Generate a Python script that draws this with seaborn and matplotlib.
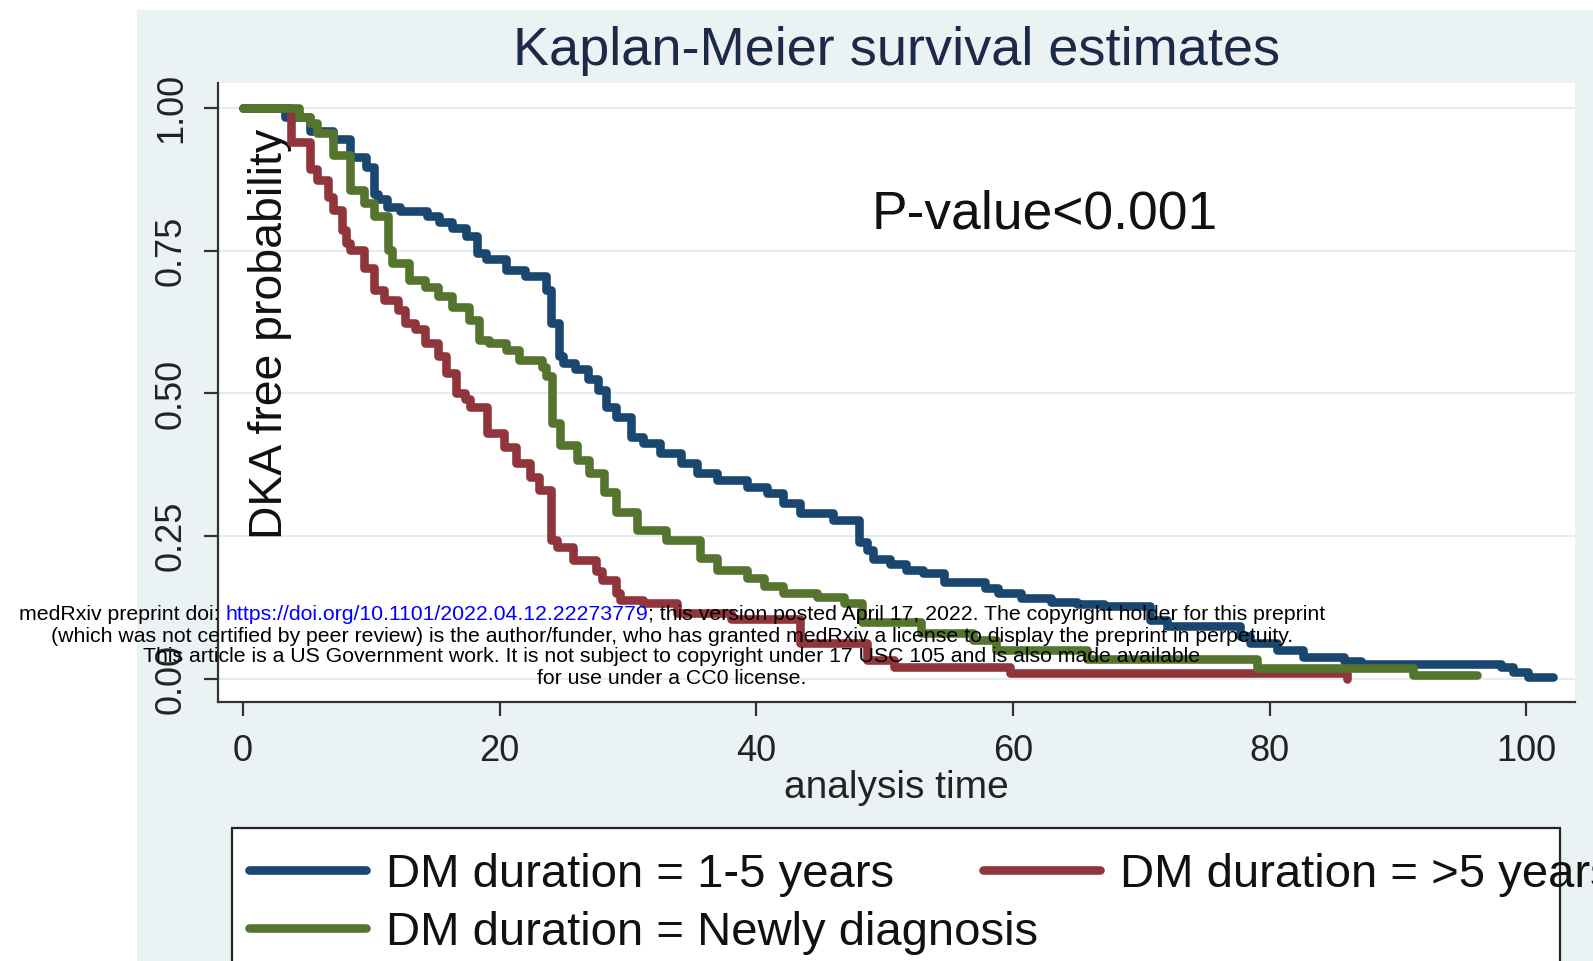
import numpy as np
import pandas as pd
import matplotlib
matplotlib.use("Agg")
import matplotlib.pyplot as plt
from matplotlib.patches import Rectangle
import seaborn as sns

# ---------------- data ----------------
blue_time = [0, 3.3, 5.2, 7.0, 8.3, 9.6, 10.2, 10.5, 11.2, 12.2, 14.3, 15.3, 16.3, 17.4, 18.2,
             18.9, 20.5, 22.0, 23.6, 24.0, 24.6, 24.9, 25.9, 26.9, 27.7, 28.3, 29.1, 30.2, 31.2,
             32.5, 34.1, 35.4, 36.9, 39.3, 40.8, 42.1, 43.4, 46.0, 48.0, 48.6, 49.1, 50.4, 51.7,
             53.0, 54.6, 57.8, 58.8, 60.6, 63.0, 65.0, 67.1, 70.7, 72.0, 77.7, 78.5, 80.6, 82.6,
             85.8, 87.1, 98.0, 99.0, 100.1, 102.1]
blue_surv = [1.0, 0.985, 0.96, 0.945, 0.915, 0.896, 0.85, 0.84, 0.826, 0.82, 0.81, 0.80, 0.789,
             0.775, 0.746, 0.735, 0.716, 0.705, 0.681, 0.623, 0.565, 0.553, 0.543, 0.525, 0.506,
             0.477, 0.459, 0.424, 0.413, 0.395, 0.378, 0.36, 0.349, 0.337, 0.325, 0.308, 0.29,
             0.278, 0.24, 0.226, 0.211, 0.202, 0.191, 0.186, 0.17, 0.159, 0.15, 0.141, 0.135,
             0.132, 0.127, 0.103, 0.092, 0.075, 0.063, 0.051, 0.039, 0.032, 0.027, 0.021, 0.013,
             0.003, 0.003]

red_time = [0, 3.7, 5.2, 5.8, 6.6, 7.0, 7.7, 8.0, 8.3, 9.4, 10.2, 11.0, 12.1, 12.6, 13.4, 14.2,
            15.2, 15.8, 16.6, 17.3, 17.7, 19.0, 20.3, 21.3, 22.4, 23.1, 24.0, 24.5, 25.7, 27.5,
            28.0, 29.1, 29.4, 31.2, 33.8, 38.0, 43.4, 48.6, 50.7, 59.8, 86.0]
red_surv = [1.0, 0.94, 0.894, 0.874, 0.845, 0.821, 0.786, 0.763, 0.751, 0.72, 0.681, 0.664, 0.646,
            0.623, 0.613, 0.588, 0.565, 0.536, 0.50, 0.49, 0.477, 0.43, 0.407, 0.378, 0.354,
            0.331, 0.243, 0.232, 0.208, 0.19, 0.173, 0.15, 0.138, 0.133, 0.115, 0.105, 0.0625,
            0.033, 0.021, 0.011, 0.0]

green_time = [0, 4.4, 5.2, 5.8, 7.0, 8.3, 9.4, 10.2, 11.3, 11.6, 12.9, 14.2, 15.2, 16.3, 17.6,
              18.4, 19.2, 20.5, 21.5, 23.3, 23.6, 24.1, 24.7, 26.0, 27.0, 28.1, 29.1, 30.7, 33.0,
              35.6, 36.9, 39.3, 40.6, 42.1, 44.7, 46.8, 48.2, 52.8, 56.9, 58.7, 65.8, 79.0, 91.2,
              96.2]
green_surv = [1.0, 0.985, 0.973, 0.956, 0.918, 0.856, 0.833, 0.81, 0.751, 0.728, 0.699, 0.687,
              0.67, 0.652, 0.629, 0.594, 0.588, 0.576, 0.559, 0.547, 0.53, 0.448, 0.41, 0.384,
              0.36, 0.328, 0.293, 0.261, 0.243, 0.212, 0.191, 0.177, 0.162, 0.150, 0.144, 0.133,
              0.10, 0.08, 0.068, 0.051, 0.035, 0.019, 0.007, 0.007]

groups = ["DM duration = 1-5 years", "DM duration = >5 years", "DM duration = Newly diagnosis"]
colors = ["#1A476F", "#90353B", "#55752F"]
x_ticks = [0, 20, 40, 60, 80, 100]
y_ticks = [0, 0.25, 0.5, 0.75, 1.0]
y_tick_labels = ["0.00", "0.25", "0.50", "0.75", "1.00"]
title = "Kaplan-Meier survival estimates"
p_text = "P-value<0.001"
y_title = "DKA free probability"
x_title = "analysis time"
wm_line1 = [("medRxiv preprint doi: ", "black"),
            ("https://doi.org/10.1101/2022.04.12.22273779", "#0000FF"),
            ("; this version posted April 17, 2022. The copyright holder for this preprint", "black")]
wm_lines = ["(which was not certified by peer review) is the author/funder, who has granted medRxiv a license to display the preprint in perpetuity.",
            "This article is a US Government work. It is not subject to copyright under 17 USC 105 and is also made available",
            "for use under a CC0 license."]

# ---------------- figure ----------------
sns.set_theme(style="white")
plt.rcParams["font.family"] = ["Liberation Sans", "DejaVu Sans"]

W, H = 1593, 961
fig = plt.figure(figsize=(W / 100, H / 100), dpi=100)
fig.patch.set_facecolor("white")
fig.patches.append(Rectangle((137 / W, 0), 1 - 137 / W, (H - 10) / H, transform=fig.transFigure,
                             facecolor="#EAF2F3", edgecolor="none", zorder=-1))

ax = fig.add_axes([218 / W, 1 - 702 / H, (1575 - 218) / W, (702 - 83) / H])
ax.set_facecolor("white")

df = pd.concat([
    pd.DataFrame({"time": blue_time, "surv": blue_surv, "group": groups[0]}),
    pd.DataFrame({"time": red_time, "surv": red_surv, "group": groups[1]}),
    pd.DataFrame({"time": green_time, "surv": green_surv, "group": groups[2]}),
], ignore_index=True)

LW = 6.2
sns.lineplot(data=df, x="time", y="surv", hue="group", hue_order=groups, palette=colors,
             estimator=None, sort=False, drawstyle="steps-post", linewidth=LW, ax=ax)

ax.set_xlim(-1.95, 103.8)
ax.set_ylim(-0.0403, 1.0438)
ax.set_xticks(x_ticks)
ax.set_yticks(y_ticks, labels=y_tick_labels)
ax.tick_params(axis="both", direction="out", length=10, width=1.6, color="#333333",
               labelsize=26, labelcolor="#222222", left=True, bottom=True)
ax.tick_params(axis="x", pad=13)
ax.tick_params(axis="y", pad=11)
plt.setp(ax.get_yticklabels(), rotation=90, va="center", ha="right")

for s in ["top", "right"]:
    ax.spines[s].set_visible(False)
for s in ["left", "bottom"]:
    ax.spines[s].set_color("#333333")
    ax.spines[s].set_linewidth(1.6)

ax.set_axisbelow(True)
ax.yaxis.grid(True, color="#E4ECEF", linewidth=1.5)
ax.xaxis.grid(False)

ax.set_title(title, fontsize=39, color="#1C2A48", y=(702 - 51) / 619, va="center", pad=0)
ax.text(49.0, 0.814, p_text, fontsize=38.4, ha="left", va="center", color="#111111")

ax.set_ylabel(y_title, fontsize=33.4, color="#111111")
ax.yaxis.set_label_coords(52 / 1357, (702 - 333.5) / 619)
ax.yaxis.label.set_va("center")
ax.set_xlabel(x_title, fontsize=28, color="#222222")
ax.xaxis.set_label_coords(0.5, (702 - 788) / 619)
ax.xaxis.label.set_va("center")

# legend
handles, labels = ax.get_legend_handles_labels()
if ax.get_legend() is not None:
    ax.get_legend().remove()
hmap = dict(zip(labels, handles))
for h in handles:
    h.set_linewidth(LW)
fig.patches.append(Rectangle((232 / W, -0.1), (1560 - 232) / W, (1 - 828 / H) + 0.1,
                             transform=fig.transFigure, facecolor="white", edgecolor="#222222",
                             linewidth=1.6, zorder=1))
leg_kw = dict(loc="upper left", frameon=False, fontsize=34, handlelength=2.48,
              handletextpad=0.42, labelspacing=0.29, borderpad=0, borderaxespad=0)
leg1 = fig.legend([hmap[groups[0]], hmap[groups[2]]], [groups[0], groups[2]],
                  bbox_to_anchor=(249 / W, 1 - 853 / H), **leg_kw)
leg2 = fig.legend([hmap[groups[1]]], [groups[1]],
                  bbox_to_anchor=(983 / W, 1 - 853 / H), **leg_kw)
for lg in (leg1, leg2):
    for t in lg.get_texts():
        t.set_color("#111111")

# watermark
renderer = fig.canvas.get_renderer()
full1 = "".join(p for p, _ in wm_line1)
probe = fig.text(0, 0, full1, fontsize=10, family="Liberation Sans")
w10 = probe.get_window_extent(renderer).width
probe.remove()
wm_fs = 10 * 1314 / w10
cx = 672
ys = [615, 636, 657, 679]
widths = []
arts = []
for s, c in wm_line1:
    t = fig.text(0, 1 - ys[0] / H, s, fontsize=wm_fs, color=c, ha="left", va="center",
                 family="Liberation Sans", zorder=10)
    widths.append(t.get_window_extent(renderer).width)
    arts.append(t)
x0 = cx - sum(widths) / 2
for t, w in zip(arts, widths):
    t.set_x(x0 / W)
    x0 += w
for s, y in zip(wm_lines, ys[1:]):
    fig.text(cx / W, 1 - y / H, s, fontsize=wm_fs, color="black", ha="center", va="center",
             family="Liberation Sans", zorder=10)

fig.savefig("out.png", dpi=100)
